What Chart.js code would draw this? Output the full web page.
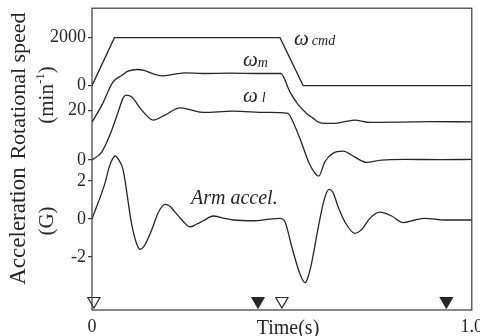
<!DOCTYPE html>
<html lang="en">
  <head>
    <meta charset="UTF-8" />
    <title>Rotational speed and arm acceleration</title>
    <script src="https://cdn.jsdelivr.net/npm/chart.js"></script>
    <style>
      body {
        margin: 0;
        background: #ffffff;
      }
      #wrap {
        width: 480px;
        height: 336px;
      }
    </style>
  </head>
  <body>
    <div id="wrap"><canvas id="chart"></canvas></div>

    <script>
      // command speed (min^-1)
      const tCmd = [0, 0.059, 0.495, 0.556, 1.0]
      const wCmd = [0, 2000, 2000, 0, 0]

      // motor speed (min^-1)
      const tMotor = [0, 0.026, 0.055, 0.079, 0.095, 0.118, 0.139, 0.158, 0.184, 0.218, 0.245, 0.292, 0.363, 0.442, 0.497,
        0.521, 0.542, 0.565, 0.582, 0.595, 0.613, 0.639, 0.666, 0.692, 0.732, 0.811, 0.889, 1.0]
      const wMotor = [0, 694, 1632, 1918, 2081, 2150, 2100, 1987, 1889, 1958, 2011, 1987, 2000, 1987, 1987,
        1236, 734, 355, 163, 12, -53, -53, 20, 82, -12, 0, 20, 12]

      // load (arm) speed (min^-1)
      const tLoad = [0, 0.026, 0.047, 0.069, 0.082, 0.091, 0.104, 0.131, 0.161, 0.192, 0.232, 0.262, 0.293, 0.371, 0.46,
        0.516, 0.529, 0.547, 0.574, 0.587, 0.597, 0.613, 0.634, 0.661, 0.692, 0.723, 0.762, 0.824, 0.916, 1.0]
      const wLoad = [0, 332, 1000, 1932, 2492, 2600, 2532, 2000, 1600, 1800, 2092, 2000, 1908, 1960, 1908,
        1868, 1532, 880, -200, -520, -640, -68, 268, 360, 120, -92, 0, 28, 20, 28]

      // arm acceleration (G)
      const tAcc = [0, 0.034, 0.047, 0.061, 0.071, 0.082, 0.104, 0.116, 0.126, 0.139, 0.157, 0.174, 0.192, 0.205, 0.218,
        0.237, 0.258, 0.276, 0.293, 0.319, 0.345, 0.372, 0.424, 0.468, 0.495, 0.508, 0.526, 0.547, 0.561, 0.568,
        0.578, 0.596, 0.611, 0.624, 0.634, 0.648, 0.666, 0.692, 0.711, 0.732, 0.758, 0.789, 0.819, 0.85, 0.876,
        0.929, 1.0]
      const accel = [0, 1.88, 2.84, 3.32, 3.1, 2.58, -0.23, -1.21, -1.59, -1.37, -0.58, 0.32, 0.77, 0.68, 0.38,
        -0.05, -0.41, -0.26, -0.09, 0.16, 0.05, -0.05, -0.09, 0, 0.04, -0.14, -1.46, -2.86, -3.35, -3.1,
        -2.33, -0.41, 1.0, 1.56, 1.42, 0.65, -0.16, -0.75, -0.53, 0.05, 0.37, 0.16, -0.19, -0.05, 0.04,
        -0.05, -0.05]

      // event markers on the time axis (s)
      const tOpenMarks = [0.005, 0.5]
      const tFilledMarks = [0.437, 0.933]

      // tick labels
      const xTickValues = [0, 1.0]
      const xTickLabels = ['0', '1.0']
      const leftTicks = [
        { trace: 'cmd', value: 2000, label: '2000' },
        { trace: 'cmd', value: 0, label: '0' },
        { trace: 'load', value: 2000, label: '20' },
        { trace: 'load', value: 0, label: '0' },
        { trace: 'acc', value: 2, label: '2' },
        { trace: 'acc', value: 0, label: '0' },
        { trace: 'acc', value: -2, label: '-2' },
      ]

      // layout: every trace sits on its own baseline inside one shared vertical scale (0..302)
      const tracks = {
        cmd: { zero: 224.5, gain: 48 / 2000 },
        motor: { zero: 188, gain: 49 / 2000 },
        load: { zero: 150, gain: 50 / 2000 },
        acc: { zero: 91, gain: 19 },
      }
      const markerLevel = 9

      const place = (trace, v) => tracks[trace].zero + v * tracks[trace].gain
      const toPoints = (ts, vs, trace) => ts.map((t, i) => ({ x: t, y: place(trace, vs[i]) }))

      const ink = '#262626'
      const serif = 'Liberation Serif, Times New Roman, serif'

      function lineSet(data, smooth) {
        return {
          data: data,
          borderColor: ink,
          borderWidth: 1.3,
          pointRadius: 0,
          fill: false,
          tension: smooth ? 0.4 : 0,
          cubicInterpolationMode: smooth ? 'monotone' : 'default',
        }
      }

      function markerSet(ts, filled) {
        return {
          type: 'scatter',
          data: ts.map((t) => ({ x: t, y: markerLevel })),
          pointStyle: 'triangle',
          rotation: 180,
          pointRadius: 7,
          borderWidth: 1.2,
          borderColor: ink,
          backgroundColor: filled ? ink : '#ffffff',
          clip: false,
        }
      }

      // draws text turned 90 degrees, parts may be raised (superscript)
      function sideText(ctx, parts, cx, cy) {
        ctx.save()
        ctx.translate(cx, cy)
        ctx.rotate(-Math.PI / 2)
        ctx.textBaseline = 'middle'
        ctx.textAlign = 'left'
        let total = 0
        parts.forEach((p) => {
          ctx.font = p.size + 'px ' + serif
          p.w = ctx.measureText(p.text).width
          total += p.w
        })
        let x = -total / 2
        parts.forEach((p) => {
          ctx.font = p.size + 'px ' + serif
          ctx.fillText(p.text, x, -(p.rise || 0))
          x += p.w
        })
        ctx.restore()
      }

      function label(ctx, text, x, y, size, style) {
        ctx.font = (style || 'italic') + ' ' + size + 'px ' + serif
        ctx.fillText(text, x, y)
        return x + ctx.measureText(text).width
      }

      const decorations = {
        id: 'decorations',
        afterDraw(chart) {
          const ctx = chart.ctx
          const a = chart.chartArea
          ctx.save()
          ctx.strokeStyle = '#3a3a3a'
          ctx.lineWidth = 1.2
          ctx.strokeRect(a.left, a.top, a.right - a.left, a.bottom - a.top)

          ctx.fillStyle = ink
          sideText(ctx, [{ text: 'Rotational speed', size: 22 }], 19, 86)
          sideText(ctx, [{ text: '(min', size: 21 }, { text: '-1', size: 13, rise: 6 }, { text: ')', size: 21 }], 47, 95)
          sideText(ctx, [{ text: 'Acceleration', size: 23 }], 19, 226)
          sideText(ctx, [{ text: '(G)', size: 21 }], 47, 221)

          ctx.textBaseline = 'alphabetic'
          ctx.textAlign = 'left'
          let x = label(ctx, 'ω', 294, 45, 21)
          label(ctx, 'cmd', x + 3, 45, 14)
          x = label(ctx, 'ω', 243, 66, 21)
          label(ctx, 'm', x, 67, 14)
          x = label(ctx, 'ω', 243, 102, 21)
          label(ctx, 'l', x + 4, 102, 14)
          label(ctx, 'Arm accel.', 191, 204, 20)

          ctx.textAlign = 'center'
          label(ctx, 'Time(s)', 288, 334, 20, 'normal')
          ctx.restore()
        },
      }

      new Chart(document.getElementById('chart'), {
        type: 'line',
        data: {
          datasets: [
            lineSet(toPoints(tCmd, wCmd, 'cmd'), false),
            lineSet(toPoints(tMotor, wMotor, 'motor'), true),
            lineSet(toPoints(tLoad, wLoad, 'load'), true),
            lineSet(toPoints(tAcc, accel, 'acc'), true),
            markerSet(tOpenMarks, false),
            markerSet(tFilledMarks, true),
          ],
        },
        options: {
          responsive: true,
          maintainAspectRatio: false,
          animation: false,
          layout: { padding: { top: 8, right: 8, left: 0, bottom: 0 } },
          plugins: { legend: { display: false }, tooltip: { enabled: false } },
          scales: {
            x: {
              type: 'linear',
              min: 0,
              max: 1,
              afterFit: (scale) => {
                scale.height = 26
                scale.paddingLeft = 0
                scale.paddingRight = 0
              },
              afterBuildTicks: (scale) => {
                scale.ticks = xTickValues.map((v) => ({ value: v }))
              },
              ticks: {
                autoSkip: false,
                maxRotation: 0,
                padding: -2,
                color: ink,
                font: { family: serif, size: 18 },
                callback: (v, i) => xTickLabels[i],
              },
              grid: { display: false },
              border: { display: false },
            },
            y: {
              type: 'linear',
              min: 0,
              max: 302,
              afterFit: (scale) => {
                scale.width = 92
                scale.paddingTop = 0
                scale.paddingBottom = 0
              },
              afterBuildTicks: (scale) => {
                scale.ticks = leftTicks.map((t) => ({ value: place(t.trace, t.value) }))
              },
              ticks: {
                autoSkip: false,
                padding: 2,
                color: ink,
                font: { family: serif, size: 18 },
                callback: (v, i) => leftTicks[i].label,
              },
              grid: { drawOnChartArea: false, drawTicks: true, tickLength: 4, color: '#3a3a3a', lineWidth: 1.2 },
              border: { display: false },
            },
          },
        },
        plugins: [decorations],
      })
    </script>
  </body>
</html>
